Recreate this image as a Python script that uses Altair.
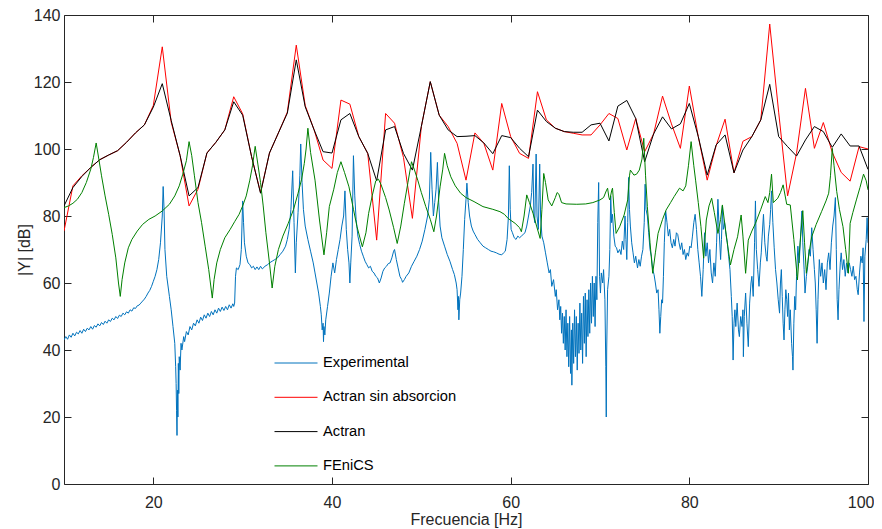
import altair as alt
import pandas as pd

# ---------------- data ----------------
names = ["Experimental", "Actran sin absorcion", "Actran", "FEniCS"]
colors = ["#0072BD", "#FF0000", "#000000", "#008000"]

actran_freq = list(range(10, 101))
actran_sin_abs = [
    75.5, 89, 92, 94.5, 96.8, 98.2, 99.5, 102, 104.8, 107.2,        # 10-19
    113, 130.5, 108, 98, 83, 88, 98.8, 102, 105.7, 115.6,           # 20-29
    110.5, 97.7, 87, 98.8, 104.8, 111, 131, 113, 105.7, 96.7,       # 30-39
    94.2, 114.6, 113.4, 103.7, 98.7, 72.8, 110.6, 107.7, 97.5, 79.3,  # 40-49
    106.7, 120.1, 110.1, 106.7, 101.7, 90.7, 104.8, 101.7, 93.7, 113.6,  # 50-59
    103.7, 98.7, 97.2, 117.1, 108.7, 106.2, 105.2, 104.7, 104.2, 104.2,  # 60-69
    107.2, 110.6, 109.1, 99.7, 109.1, 99.2, 104.5, 115.8, 107.5, 100.2,  # 70-79
    118.8, 103.7, 90.7, 101, 108.9, 92.9, 102.3, 103.7, 108.7, 137.3,   # 80-89
    111, 86, 98.7, 118.1, 100.2, 107.9, 99, 93, 90.4, 100.7,           # 90-99
    100,                                                               # 100
]
actran = [
    83, 88.5, 91.8, 94.5, 96.8, 98.2, 99.5, 102, 104.8, 107.2,
    112.5, 119.5, 108.5, 98, 86, 88.5, 98.8, 102, 105.7, 114.1,
    110.1, 97.7, 86.8, 98.8, 104.8, 110.7, 126.6, 112.6, 105.7, 99.2,
    98.8, 108.7, 110.6, 103.7, 98.7, 90.5, 105.7, 106.7, 98.7, 93.7,
    106.7, 120.1, 110.1, 105.7, 103.7, 103.8, 104, 101.8, 98.6, 104,
    103.4, 100.2, 97.7, 111.6, 108.2, 106.2, 105.2, 105, 105, 107.2,
    107.7, 102.4, 112.8, 114.5, 109.1, 96.2, 104.5, 109.6, 106, 107.5,
    113.6, 103.7, 92.2, 101.2, 104.2, 92.9, 99.7, 103.7, 108.7, 119.3,
    103.7, 100.7, 97.9, 102.7, 106.7, 105.2, 100.5, 104.5, 100.9, 100.9,
    93.9,
]

fenics_points = [
    [10, 82.5], [10.5, 83], [11, 83.8], [11.5, 85], [12, 87], [12.5, 90], [13, 94],
    [13.3, 97.5], [13.6, 101.8], [13.9, 97], [14.2, 92], [14.6, 86], [15, 80.5],
    [15.4, 74.5], [15.8, 67.5], [16.1, 60], [16.3, 56], [16.5, 61], [16.8, 66],
    [17.2, 70.5], [17.6, 73], [18.2, 75.5], [18.8, 77.5], [19.5, 79], [20.2, 80],
    [21, 81.5], [21.8, 83.5], [22.4, 86], [22.9, 89], [23.3, 92.5], [23.7, 96.5],
    [24.0, 102.2], [24.3, 98], [24.6, 92], [25, 84], [25.4, 78], [25.8, 71],
    [26.2, 64], [26.6, 55.5], [26.8, 61], [27.1, 66], [27.5, 70], [28, 73.5],
    [28.6, 76], [29.1, 78.3], [29.6, 80.5], [30, 83], [30.4, 86], [30.8, 90.7],
    [31.1, 95], [31.4, 100.8], [31.7, 95.5], [32, 90], [32.3, 83], [32.6, 75],
    [33, 66], [33.3, 58.5], [33.6, 65], [34, 70], [34.5, 74], [35.1, 77.8],
    [35.7, 82], [36.2, 86.8], [36.6, 91], [36.9, 95.7], [37.1, 100], [37.3, 106.2],
    [37.6, 99], [38.1, 90.7], [38.6, 78.8], [39.1, 68.4], [39.4, 75], [39.7, 82.8],
    [40.2, 88], [40.6, 93], [41.0, 96.2], [41.4, 93], [41.9, 88.7], [42.4, 82],
    [42.8, 76.8], [43.4, 70.8], [43.8, 75], [44.1, 80.8], [44.5, 86], [44.9, 90.5],
    [45.2, 91], [45.5, 89.3], [46, 85.5], [46.4, 81.8], [46.9, 76.5], [47.3, 71.8],
    [47.7, 77], [48.1, 83.8], [48.5, 90], [48.9, 96.2], [49.2, 94], [49.6, 90.7],
    [50, 87], [50.5, 82.8], [51, 79], [51.4, 75.3], [51.7, 80], [52.1, 88.7],
    [52.4, 94], [52.6, 98.7], [52.9, 95], [53.3, 91.7], [53.8, 89], [54.4, 86.8],
    [55, 85.5], [55.9, 84.3], [56.9, 82.8], [58, 82], [58.8, 81.3], [59.3, 80.5],
    [59.7, 79.3], [60.5, 77.8], [61, 76.5], [61.2, 75.3], [61.5, 80], [61.8, 86.3],
    [62.1, 84], [62.5, 80.8], [62.9, 77], [63.3, 73.3], [63.5, 82], [63.7, 92.7],
    [63.9, 90], [64.2, 84.8], [64.6, 83], [65, 85.5], [65.2, 87], [65.4, 86.5],
    [65.7, 84], [66.2, 83.6], [67.4, 83.5], [68.4, 83.6], [69.2, 84], [70, 84.8],
    [70.4, 85.5], [70.7, 87.5], [70.85, 88.3], [71.0, 85.5], [71.1, 84.8],
    [71.3, 87.5], [71.4, 88.3], [71.6, 81], [71.8, 74.8], [72.2, 76.8], [72.7, 80.3],
    [73.1, 84.8], [73.3, 92], [73.4, 93.7], [73.8, 92.2], [74.1, 92.5], [74.4, 93.7],
    [74.7, 97], [74.9, 103.2], [75.1, 92], [75.3, 82.8], [75.6, 72], [75.9, 62.9],
    [76.2, 69], [76.5, 74.8], [77, 79], [77.4, 81.8], [77.9, 84], [78.3, 85.8],
    [78.9, 88.3], [79.3, 87.5], [79.6, 89], [79.9, 95], [80.2, 102.2], [80.5, 95],
    [80.7, 90.7], [81, 84], [81.3, 76.8], [81.6, 67.4], [81.9, 78.8], [82.2, 83],
    [82.5, 85.3], [82.8, 81], [83.2, 74.8], [83.5, 79], [83.7, 83.3], [84, 77],
    [84.3, 71], [84.6, 65.4], [85, 70], [85.4, 73.8], [85.8, 80.3], [86.0, 74],
    [86.3, 62.9], [86.6, 72.8], [87, 75.5], [87.4, 77.8], [88, 82], [88.5, 85.8],
    [88.8, 84], [89.0, 87], [89.2, 92.5], [89.4, 84], [89.9, 85.3], [90.2, 87],
    [90.5, 89.3], [90.9, 83.5], [91.3, 83.3], [91.7, 73], [92.1, 60.9], [92.4, 72],
    [92.7, 81.6], [92.9, 72], [93.1, 62.9], [93.4, 69], [93.7, 73.8], [94.2, 77.5],
    [94.8, 81.3], [95.3, 84.5], [95.6, 86.8], [95.8, 92], [96.0, 100.2], [96.2, 95],
    [96.5, 87.3], [96.8, 82], [97.2, 76.8], [97.5, 70], [97.8, 62.9], [98.0, 77.8],
    [98.3, 81], [98.7, 84.8], [99.1, 88.5], [99.5, 92.5], [99.8, 90.5], [100, 87.8],
]

exp_points = [
    # 10 - 21
    [10.0, 43.0], [10.2, 44.0], [10.4, 43.2], [10.6, 44.5], [10.8, 43.8], [11.0, 45.0],
    [11.2, 44.2], [11.4, 45.3], [11.6, 44.8], [11.8, 45.8], [12.0, 45.0], [12.2, 46.2],
    [12.4, 45.5], [12.6, 46.5], [12.8, 46.0], [13.0, 47.0], [13.2, 46.2], [13.4, 47.3],
    [13.6, 46.8], [13.8, 47.8], [14.0, 47.2], [14.2, 48.2], [14.4, 47.6], [14.6, 48.6],
    [14.8, 48.0], [15.0, 49.0], [15.2, 48.5], [15.4, 49.5], [15.6, 49.0], [15.8, 50.0],
    [16.0, 49.4], [16.2, 50.4], [16.4, 50.0], [16.6, 51.0], [16.8, 50.5], [17.0, 51.4],
    [17.2, 51.0], [17.4, 52.0], [17.6, 51.6], [17.8, 52.6], [18.0, 52.4], [18.2, 53.2],
    [18.4, 53.4], [18.6, 54.0], [18.8, 54.6], [19.0, 55.2], [19.2, 56.0], [19.4, 57.0],
    [19.6, 57.8], [19.8, 59.0], [20.0, 60.5], [20.2, 62.0], [20.4, 64.0], [20.6, 67.0],
    [20.8, 72.0], [21.0, 80.0], [21.1, 88.8], [21.2, 82.0], [21.3, 70.0], [21.5, 62.0],
    # 21.8 - 29
    [21.8, 56.0], [22.0, 52.0], [22.2, 47.0], [22.4, 42.0], [22.5, 35.0], [22.55, 30.0],
    [22.6, 22.0], [22.65, 14.5], [22.7, 28.0], [22.75, 20.0], [22.8, 36.0], [22.85, 27.0],
    [22.9, 38.0], [23.0, 34.0], [23.1, 42.0], [23.2, 40.0], [23.4, 44.0], [23.5, 42.5],
    [23.7, 45.5], [23.9, 44.5], [24.1, 47.0], [24.3, 46.0], [24.5, 48.0], [24.7, 47.2],
    [24.9, 49.0], [25.1, 48.0], [25.3, 49.8], [25.5, 48.8], [25.7, 50.5], [25.9, 49.5],
    [26.1, 51.0], [26.3, 50.0], [26.5, 51.5], [26.7, 50.5], [26.9, 52.0], [27.1, 51.0],
    [27.3, 52.5], [27.5, 51.5], [27.7, 52.8], [27.9, 51.8], [28.1, 53.0], [28.3, 52.0],
    [28.5, 53.5], [28.7, 52.5], [28.9, 53.8], [29.0, 53.0], [29.1, 54.0],
    # 29 - 40
    [29.2, 62.0], [29.3, 64.5], [29.5, 64.0], [29.7, 65.5], [29.85, 70.0], [30.0, 84.5],
    [30.1, 78.0], [30.2, 72.0], [30.4, 68.0], [30.6, 66.0], [30.8, 65.5], [31.0, 64.5],
    [31.2, 65.0], [31.4, 64.0], [31.6, 64.8], [31.8, 64.0], [32.0, 65.0], [32.2, 64.2],
    [32.5, 65.0], [32.8, 65.5], [33.0, 66.0], [33.3, 66.5], [33.6, 67.0], [33.9, 67.5],
    [34.2, 68.5], [34.5, 69.5], [34.8, 71.0], [35.0, 73.0], [35.2, 76.0], [35.4, 82.0],
    [35.6, 93.5], [35.75, 78.0], [35.9, 63.0], [36.0, 72.0], [36.2, 81.0], [36.4, 92.0],
    [36.5, 101.5], [36.65, 90.0], [36.8, 82.0], [37.0, 77.0], [37.3, 73.0], [37.6, 69.5],
    [37.9, 66.0], [38.1, 63.0], [38.3, 60.0], [38.5, 57.0], [38.7, 53.0], [38.8, 50.5],
    [38.9, 46.0], [39.0, 48.0], [39.05, 42.5], [39.1, 47.0], [39.2, 44.5], [39.3, 49.0],
    [39.5, 53.0], [39.7, 57.0], [39.9, 62.0], [40.1, 66.0], [40.3, 63.0], [40.5, 67.0],
    # 40.7 - 56
    [40.7, 70.0], [40.9, 73.0], [41.1, 77.0], [41.3, 80.0], [41.45, 87.5], [41.6, 76.0],
    [41.75, 70.0], [41.9, 66.0], [42.0, 60.0], [42.1, 66.0], [42.25, 74.0], [42.4, 98.0],
    [42.55, 86.0], [42.7, 79.0], [42.9, 74.0], [43.1, 71.5], [43.3, 69.5], [43.5, 68.0],
    [43.7, 66.5], [43.9, 65.5], [44.1, 64.5], [44.3, 65.0], [44.5, 63.5], [44.7, 63.0],
    [44.9, 62.0], [45.1, 61.5], [45.3, 60.0], [45.5, 61.5], [45.7, 63.5], [45.9, 64.5],
    [46.1, 65.0], [46.3, 65.8], [46.5, 66.0], [46.7, 67.5], [46.9, 69.5], [47.0, 70.0],
    [47.2, 67.0], [47.4, 64.5], [47.6, 62.0], [47.8, 61.0], [47.9, 60.2], [48.1, 61.0],
    [48.3, 62.0], [48.6, 63.0], [48.9, 65.0], [49.2, 66.5], [49.5, 68.0], [49.8, 70.0],
    [50.1, 72.5], [50.4, 76.0], [50.7, 80.0], [50.9, 85.0], [51.05, 99.0], [51.2, 88.0],
    [51.35, 80.0], [51.5, 84.0], [51.65, 88.0], [51.8, 96.0], [51.95, 84.0], [52.1, 77.0],
    [52.3, 73.5], [52.6, 71.0], [52.9, 68.5], [53.2, 66.5], [53.5, 64.0], [53.7, 62.5],
    [53.9, 60.0], [54.0, 58.0], [54.1, 52.0], [54.15, 56.0], [54.2, 49.0], [54.3, 55.0],
    [54.4, 57.0], [54.55, 62.0], [54.7, 70.0], [54.85, 79.0], [55.0, 85.0], [55.1, 89.8],
    [55.25, 84.0], [55.4, 80.0], [55.6, 77.0], [55.8, 75.5], [56.0, 74.5],
    # 56.3 - 64
    [56.3, 73.0], [56.6, 72.0], [56.9, 71.0], [57.2, 70.5], [57.5, 70.0], [57.8, 69.5],
    [58.1, 69.3], [58.4, 69.0], [58.7, 68.6], [59.0, 68.4], [59.2, 69.0], [59.4, 69.5],
    [59.6, 73.0], [59.75, 80.0], [59.85, 95.0], [59.95, 82.0], [60.05, 76.0], [60.2, 75.0],
    [60.4, 73.5], [60.6, 73.0], [60.8, 74.0], [61.0, 73.5], [61.2, 74.0], [61.4, 74.5],
    [61.6, 75.0], [61.8, 77.0], [62.0, 80.0], [62.2, 83.0], [62.35, 87.0], [62.5, 95.5],
    [62.6, 80.0], [62.7, 78.0], [62.85, 98.5], [62.95, 80.0], [63.1, 76.0], [63.25, 95.5],
    [63.35, 80.0], [63.5, 74.0], [63.7, 72.0], [63.9, 69.0], [64.1, 66.0], [64.3, 63.0],
    # 64.45 - 71
    [64.45, 64.0], [64.6, 59.0], [64.8, 61.0], [65.0, 56.0], [65.1, 58.0], [65.25, 52.0],
    [65.4, 55.0], [65.5, 49.0], [65.6, 53.0], [65.7, 45.0], [65.8, 51.0], [65.9, 42.0],
    [66.0, 50.0], [66.1, 40.0], [66.2, 52.0], [66.3, 38.0], [66.4, 48.0], [66.5, 35.0],
    [66.6, 50.0], [66.7, 33.0], [66.8, 46.0], [66.85, 29.5], [66.95, 48.0], [67.05, 36.0],
    [67.15, 52.0], [67.25, 38.0], [67.35, 50.0], [67.45, 34.0], [67.55, 48.0], [67.65, 39.0],
    [67.75, 54.0], [67.85, 40.0], [67.95, 51.0], [68.05, 36.0], [68.15, 56.0], [68.25, 42.0],
    [68.35, 57.0], [68.45, 38.0], [68.55, 55.0], [68.65, 44.0], [68.75, 58.0], [68.85, 45.0],
    [68.95, 60.0], [69.05, 48.0], [69.15, 62.0], [69.25, 50.0], [69.35, 60.0], [69.45, 47.0],
    [69.55, 62.0], [69.65, 55.0], [69.75, 78.0], [69.85, 90.0], [69.95, 62.0], [70.05, 57.0],
    [70.15, 63.0], [70.3, 60.0], [70.4, 64.0], [70.55, 55.0], [70.65, 35.0], [70.7, 20.0],
    [70.75, 40.0], [70.85, 58.0], [71.0, 62.0],
    # 71 - 86
    [71.1, 70.0], [71.2, 86.0], [71.3, 78.0], [71.4, 80.5], [71.55, 74.0], [71.7, 71.0],
    [71.85, 70.5], [72.0, 69.0], [72.2, 70.0], [72.35, 68.5], [72.5, 72.5], [72.65, 70.0],
    [72.8, 80.0], [72.9, 73.0], [73.0, 67.0], [73.1, 78.0], [73.2, 91.5], [73.3, 82.0],
    [73.4, 77.0], [73.55, 72.0], [73.7, 69.0], [73.85, 66.0], [74.0, 68.0], [74.2, 64.5],
    [74.35, 67.0], [74.5, 65.0], [74.65, 68.0], [74.8, 70.0], [74.95, 78.0], [75.05, 89.5],
    [75.15, 82.0], [75.3, 80.0], [75.45, 75.0], [75.6, 70.0], [75.75, 68.0], [75.9, 64.0],
    [76.05, 62.5], [76.2, 60.0], [76.35, 57.0], [76.5, 58.0], [76.6, 52.0], [76.7, 45.0],
    [76.8, 50.0], [76.9, 55.0], [77.0, 54.0], [77.1, 62.0], [77.2, 72.0], [77.35, 81.5],
    [77.5, 78.0], [77.65, 74.0], [77.8, 76.0], [77.95, 72.0], [78.1, 70.5], [78.25, 73.0],
    [78.4, 71.0], [78.55, 75.0], [78.7, 74.5], [78.85, 72.0], [79.0, 70.0], [79.15, 72.0],
    [79.3, 68.5], [79.45, 70.0], [79.6, 67.0], [79.75, 69.0], [79.9, 68.0], [80.05, 71.0],
    [80.2, 70.5], [80.35, 74.0], [80.5, 78.0], [80.65, 80.5], [80.8, 76.0], [80.95, 70.0],
    [81.1, 66.0], [81.25, 62.0], [81.4, 56.0], [81.55, 64.0], [81.7, 75.0], [81.85, 68.0],
    [82.0, 72.0], [82.15, 66.0], [82.3, 70.0], [82.45, 63.0], [82.6, 60.0], [82.75, 66.0],
    [82.9, 62.0], [83.05, 72.0], [83.2, 85.0], [83.35, 75.0], [83.5, 67.0], [83.6, 73.0],
    [83.7, 83.0], [83.8, 76.0], [83.95, 78.0], [84.1, 74.5], [84.25, 72.0], [84.4, 68.0],
    [84.55, 64.0], [84.7, 56.0], [84.8, 50.0], [84.9, 37.0], [85.0, 48.0], [85.1, 52.0],
    [85.2, 47.0], [85.35, 54.0], [85.5, 46.0], [85.6, 44.0], [85.75, 50.0], [85.9, 47.0],
    # 86 - 100
    [86.0, 52.0], [86.05, 38.0], [86.15, 50.0], [86.3, 57.0], [86.45, 48.0], [86.6, 41.0],
    [86.75, 54.0], [86.9, 60.0], [87.0, 62.0], [87.15, 56.0], [87.3, 72.0], [87.4, 84.5],
    [87.5, 70.0], [87.65, 64.0], [87.8, 59.0], [87.95, 66.0], [88.05, 69.0], [88.15, 74.0],
    [88.3, 80.5], [88.45, 72.0], [88.6, 68.0], [88.7, 66.5], [88.85, 74.0], [89.0, 77.5],
    [89.1, 82.0], [89.2, 87.5], [89.35, 78.0], [89.5, 70.5], [89.65, 64.0], [89.8, 60.0],
    [89.95, 55.0], [90.1, 51.0], [90.2, 60.0], [90.3, 64.0], [90.4, 56.0], [90.5, 48.0],
    [90.6, 43.0], [90.7, 52.0], [90.8, 58.0], [90.9, 55.0], [91.0, 50.0], [91.1, 57.0],
    [91.2, 46.0], [91.3, 52.0], [91.45, 42.0], [91.55, 38.0], [91.6, 34.0], [91.7, 48.0],
    [91.8, 56.0], [91.9, 52.0], [92.0, 62.0], [92.15, 71.0], [92.3, 66.0], [92.45, 74.0],
    [92.6, 81.5], [92.7, 72.0], [92.85, 64.0], [92.95, 57.0], [93.1, 62.0], [93.25, 65.0],
    [93.4, 70.0], [93.55, 68.0], [93.7, 76.5], [93.85, 70.0], [94.0, 64.0], [94.1, 60.0],
    [94.2, 52.0], [94.3, 42.0], [94.4, 55.0], [94.55, 67.0], [94.7, 62.0], [94.85, 66.0],
    [95.0, 60.0], [95.15, 64.0], [95.3, 58.0], [95.45, 66.0], [95.6, 69.0], [95.75, 64.0],
    [95.9, 72.0], [96.05, 77.0], [96.2, 80.0], [96.35, 85.5], [96.45, 70.0], [96.55, 55.0],
    [96.65, 49.0], [96.75, 58.0], [96.9, 66.0], [97.0, 69.0], [97.15, 64.0], [97.3, 67.0],
    [97.45, 62.0], [97.6, 66.0], [97.75, 63.0], [97.9, 66.0], [98.05, 64.0], [98.2, 62.0],
    [98.35, 65.0], [98.5, 61.0], [98.65, 62.0], [98.8, 58.0], [98.9, 56.5], [99.05, 63.0],
    [99.2, 68.0], [99.35, 66.0], [99.45, 70.5], [99.55, 48.5], [99.65, 68.0], [99.8, 73.0],
    [99.9, 79.5], [100.0, 72.0],
]

x_ticks = [20, 40, 60, 80, 100]
y_ticks = [0, 20, 40, 60, 80, 100, 120, 140]

# ---------------- frames ----------------
def frame(freqs, vals, name):
    d = pd.DataFrame({"f": freqs, "v": vals})
    d["serie"] = name
    d["i"] = range(len(d))
    return d

df_exp = frame([p[0] for p in exp_points], [p[1] for p in exp_points], names[0])
df_red = frame(actran_freq, actran_sin_abs, names[1])
df_blk = frame(actran_freq, actran, names[2])
df_grn = frame([p[0] for p in fenics_points], [p[1] for p in fenics_points], names[3])
df_all = pd.concat([df_exp, df_red, df_blk, df_grn], ignore_index=True)

FONT = "Liberation Sans"
AX = "#262626"

xs = alt.Scale(domain=[10, 100], nice=False, zero=False)
ys = alt.Scale(domain=[0, 140], nice=False)
cs = alt.Scale(domain=names, range=colors)

leg = alt.Legend(
    title=None, orient="none", legendX=210, legendY=326,
    symbolType="stroke", symbolSize=1849, symbolStrokeWidth=1,
    rowPadding=5.3, labelOffset=5, labelFontSize=14.7, labelFont=FONT,
    labelColor="#000000", padding=0, labelLimit=300,
)

bottom_axis = alt.Axis(
    orient="bottom", values=x_ticks, title="Frecuencia [Hz]", grid=False, domain=False,
    tickSize=7, offset=-7, tickColor=AX, labelPadding=10, labelFontSize=16,
    labelFont=FONT, labelColor=AX, titleFont=FONT, titleFontSize=16,
    titleFontWeight="normal", titleColor=AX, titleBaseline="alphabetic", titleY=47,
    labelFlush=True, labelFlushOffset=6,
)
left_axis = alt.Axis(
    orient="left", values=y_ticks, title="|Y| [dB]", grid=False, domain=False,
    tickSize=7, offset=-7, tickColor=AX, labelPadding=4, labelFontSize=16,
    labelFont=FONT, labelColor=AX, titleFont=FONT, titleFontSize=16,
    titleFontWeight="normal", titleColor=AX, titlePadding=1,
)
top_axis = alt.Axis(
    orient="top", values=x_ticks, title=None, labels=False, grid=False, domain=False,
    tickSize=7, offset=-7, tickColor=AX,
)
right_axis = alt.Axis(
    orient="right", values=y_ticks, title=None, labels=False, grid=False, domain=False,
    tickSize=7, offset=-7, tickColor=AX,
)

# one line mark for all four series; drawing order follows the color domain order
lines = alt.Chart(df_all).mark_line(strokeWidth=1, clip=True).encode(
    x=alt.X("f:Q", scale=xs, axis=bottom_axis),
    y=alt.Y("v:Q", scale=ys, axis=left_axis),
    color=alt.Color("serie:N", scale=cs, legend=leg, sort=names),
    detail="serie:N",
    order=alt.Order("i:Q"),
)
l_ticks = alt.Chart(df_red).mark_line(opacity=0).encode(
    x=alt.X("f:Q", scale=xs, axis=top_axis),
    y=alt.Y("v:Q", scale=ys, axis=right_axis),
)

chart = (
    alt.layer(lines, l_ticks)
    .resolve_axis(x="independent", y="independent")
    .properties(
        width=804, height=469,
        autosize=alt.AutoSizeParams(type="none"),
        padding={"left": 56, "top": 7, "right": 6, "bottom": 45},
        background="white",
    )
    .configure_view(stroke=AX, strokeWidth=1)
)

chart.save("out.html", embed_options={"renderer": "svg", "actions": False})
